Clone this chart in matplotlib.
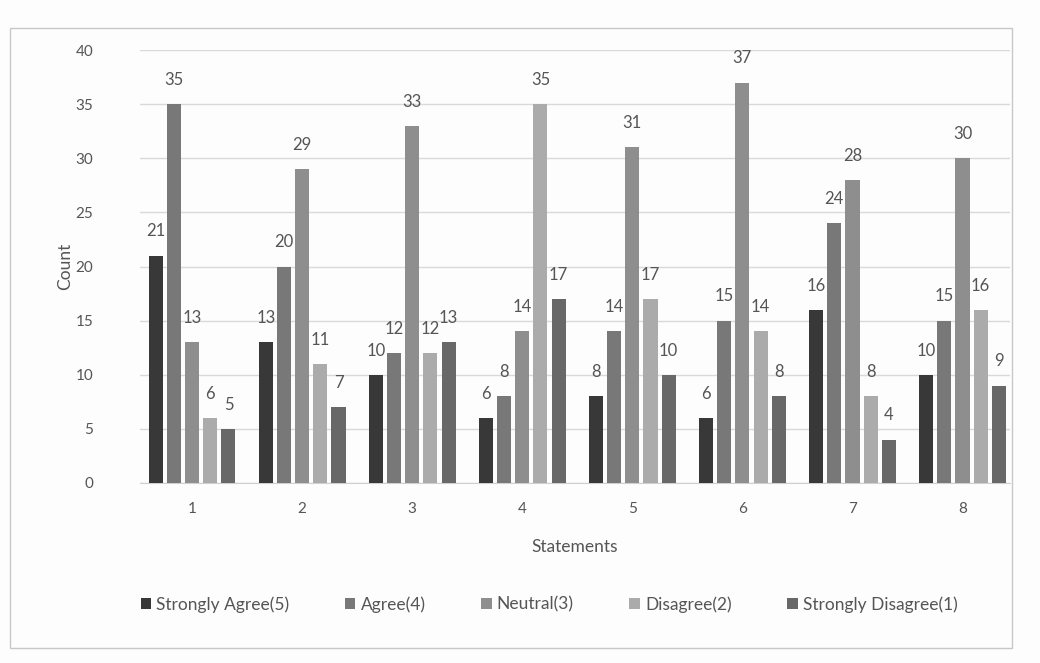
import matplotlib.pyplot as plt
import numpy as np
from matplotlib.patches import Rectangle

plt.rcParams['font.family'] = ['Lato', 'DejaVu Sans']

# --- data ---
statements = ['1', '2', '3', '4', '5', '6', '7', '8']
strongly_agree = [21, 13, 10, 6, 8, 6, 16, 10]
agree = [35, 20, 12, 8, 14, 15, 24, 15]
neutral = [13, 29, 33, 14, 31, 37, 28, 30]
disagree = [6, 11, 12, 35, 17, 14, 8, 16]
strongly_disagree = [5, 7, 13, 17, 10, 8, 4, 9]

series_names = ['Strongly Agree(5)', 'Agree(4)', 'Neutral(3)', 'Disagree(2)', 'Strongly Disagree(1)']
series = [strongly_agree, agree, neutral, disagree, strongly_disagree]
colors = ['#383838', '#787878', '#8e8e8e', '#ababab', '#686868']

text_col = '#555555'

fig = plt.figure(figsize=(10.4, 6.63), dpi=100)
fig.patch.set_facecolor('#fdfdfd')

# chart area border like a pasted office chart
fig.add_artist(Rectangle((10 / 1040, 1 - 648 / 663), 1002 / 1040, 620 / 663,
                         transform=fig.transFigure, fill=False,
                         edgecolor='#c8c8c8', linewidth=1.0))

ax = fig.add_axes([0.135, 0.2715, 0.836, 0.653])
ax.set_facecolor('#fdfdfd')

x = np.arange(len(statements))
step = 0.165
width = 0.128
for i, (name, vals, col) in enumerate(zip(series_names, series, colors)):
    pos = x + (i - 2) * step
    bars = ax.bar(pos, vals, width, color=col, label=name, zorder=3)
    for b, v in zip(bars, vals):
        ax.text(b.get_x() + b.get_width() / 2, v + 1.5, str(v),
                ha='center', va='bottom', fontsize=12, color=text_col)

ax.set_ylim(0, 40)
ax.set_xlim(-0.47, len(statements) - 0.57)
ax.set_yticks(range(0, 41, 5))
ax.set_xticks(x)
ax.set_xticklabels(statements)
ax.tick_params(axis='both', length=0, labelsize=11, colors=text_col)
ax.tick_params(axis='x', pad=14)
ax.tick_params(axis='y', pad=34)
ax.grid(axis='y', color='#d9d9d9', linewidth=1.0, zorder=0)
for s in ['top', 'right', 'left']:
    ax.spines[s].set_visible(False)
ax.spines['bottom'].set_color('#d0d0d0')

ax.set_xlabel('Statements', fontsize=12.5, color=text_col, labelpad=16)
ax.set_ylabel('Count', fontsize=12.5, color=text_col, labelpad=2)

ax.legend(loc='upper center', bbox_to_anchor=(0.47, -0.225), ncol=5, frameon=False,
          fontsize=12.5, handlelength=0.6, handleheight=0.6, handletextpad=0.3,
          columnspacing=3.2, labelcolor=text_col)

fig.savefig('out.png', dpi=100, facecolor=fig.get_facecolor())
